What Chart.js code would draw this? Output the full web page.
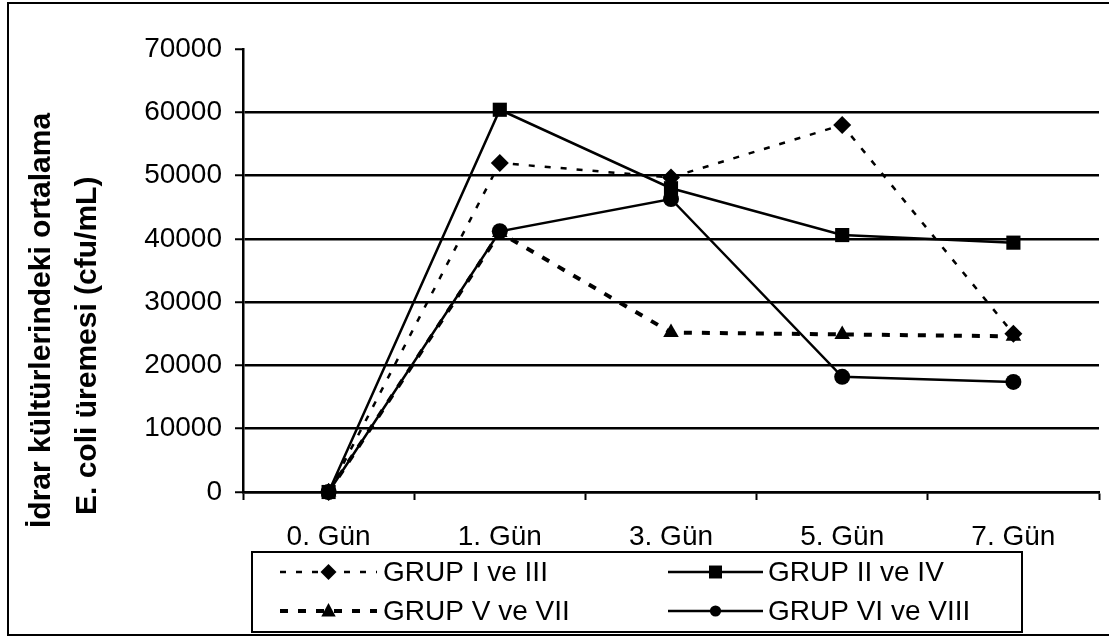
<!DOCTYPE html>
<html>
<head>
<meta charset="utf-8">
<script src="https://cdn.jsdelivr.net/npm/chart.js@4.4.1/dist/chart.umd.min.js"></script>
<style>
  body { margin: 0; background: #fff; }
  canvas { display: block; }
</style>
</head>
<body>
<canvas id="chart" width="1109" height="638"></canvas>
<script>
let days = ['0. Gün', '1. Gün', '3. Gün', '5. Gün', '7. Gün'];
let grup1 = [0, 52000, 49700, 58000, 25000];
let grup2 = [0, 60400, 48000, 40600, 39400];
let grup3 = [0, 41000, 25200, 24900, 24600];
let grup4 = [0, 41200, 46300, 18200, 17400];
let groupNames = ['GRUP I ve III', 'GRUP II ve IV', 'GRUP V ve VII', 'GRUP VI ve VIII'];
let yTitle = ['İdrar kültürlerindeki ortalama', 'E. coli üremesi (cfu/mL)'];

const FONT = '"Liberation Sans", Arial, sans-serif';

function drawMarker(ctx, style, x, y, r) {
    ctx.beginPath();
    if (style === 'rectRot') {
        ctx.moveTo(x, y - r); ctx.lineTo(x + r, y); ctx.lineTo(x, y + r); ctx.lineTo(x - r, y);
    } else if (style === 'rect') {
        ctx.rect(x - r * 0.72, y - r * 0.72, r * 1.44, r * 1.44);
    } else if (style === 'triangle') {
        ctx.moveTo(x, y - r); ctx.lineTo(x + r * 0.9, y + r * 0.7); ctx.lineTo(x - r * 0.9, y + r * 0.7);
    } else {
        ctx.arc(x, y, r * 0.8, 0, Math.PI * 2);
    }
    ctx.closePath();
    ctx.fill();
}

// y title, legend box and outer frame
let extras = {
    id: 'extras',
    afterDraw(chart) {
        let ctx = chart.ctx;
        ctx.save();
        ctx.fillStyle = '#000';
        ctx.strokeStyle = '#000';

        // outer frame
        ctx.lineWidth = 2;
        ctx.strokeRect(8, 3, 1120, 632);

        // rotated axis title
        ctx.font = 'bold 30px ' + FONT;
        ctx.textAlign = 'left';
        ctx.textBaseline = 'alphabetic';
        [[50, 528], [96, 515]].forEach((p, i) => {
            ctx.save();
            ctx.translate(p[0], p[1]);
            ctx.rotate(-Math.PI / 2);
            ctx.fillText(yTitle[i], 0, 0);
            ctx.restore();
        });

        // legend
        ctx.lineWidth = 2;
        ctx.strokeRect(252, 552, 770, 80);
        let cols = [[280, 377, 383], [668, 763, 768]];
        let rows = [572, 611];
        chart.data.datasets.forEach((ds, i) => {
            let c = cols[i % 2], y = rows[Math.floor(i / 2)];
            ctx.save();
            ctx.lineWidth = ds.borderWidth;
            ctx.setLineDash(ds.borderDash || []);
            ctx.beginPath();
            ctx.moveTo(c[0], y);
            ctx.lineTo(c[1], y);
            ctx.stroke();
            ctx.restore();
            drawMarker(ctx, ds.pointStyle, (c[0] + c[1]) / 2, y, ds.pointRadius - 1);
            ctx.font = '28px ' + FONT;
            ctx.textBaseline = 'middle';
            ctx.fillText(ds.label, c[2], y + 1);
        });
        ctx.restore();
    }
};

let ctx = document.getElementById('chart').getContext('2d');
let chart = new Chart(ctx, {
    type: 'line',
    data: {
        labels: days,
        datasets: [
            { label: groupNames[0], data: grup1, borderDash: [6, 10], borderWidth: 2.5, pointStyle: 'rectRot', pointRadius: 9 },
            { label: groupNames[1], data: grup2, borderWidth: 2.5, pointStyle: 'rect', pointRadius: 10 },
            { label: groupNames[2], data: grup3, borderDash: [8, 10], borderWidth: 4, pointStyle: 'triangle', pointRadius: 9 },
            { label: groupNames[3], data: grup4, borderWidth: 2.5, pointStyle: 'circle', pointRadius: 8 }
        ].map(ds => Object.assign({
            borderColor: '#000',
            backgroundColor: '#000',
            pointBackgroundColor: '#000',
            pointBorderColor: '#000',
            pointBorderWidth: 0,
            tension: 0,
            clip: false
        }, ds))
    },
    options: {
        responsive: false,
        animation: false,
        layout: { padding: { left: 0, top: 49, right: 3, bottom: 86 } },
        plugins: {
            legend: { display: false },
            tooltip: { enabled: false }
        },
        scales: {
            x: {
                offset: true,
                grid: { display: true, offset: true, drawOnChartArea: false, tickLength: 8, tickWidth: 2, tickColor: '#000' },
                border: { color: '#000', width: 2.5 },
                ticks: { color: '#000', font: { family: FONT, size: 28 }, padding: 20, maxRotation: 0 },
                afterFit: s => { s.height = 60; }
            },
            y: {
                min: 0,
                max: 70000,
                grid: {
                    color: c => (c.tick && c.tick.value === 70000) ? 'rgba(0,0,0,0)' : '#000',
                    lineWidth: 2.5,
                    tickColor: '#000',
                    tickWidth: 2,
                    tickLength: 8
                },
                border: { color: '#000', width: 2.5 },
                ticks: {
                    stepSize: 10000,
                    color: '#000',
                    padding: 13,
                    font: { family: FONT, size: 28 },
                    callback: v => String(v)
                },
                afterFit: s => { s.width = 243; }
            }
        }
    },
    plugins: [extras]
});
</script>
</body>
</html>
